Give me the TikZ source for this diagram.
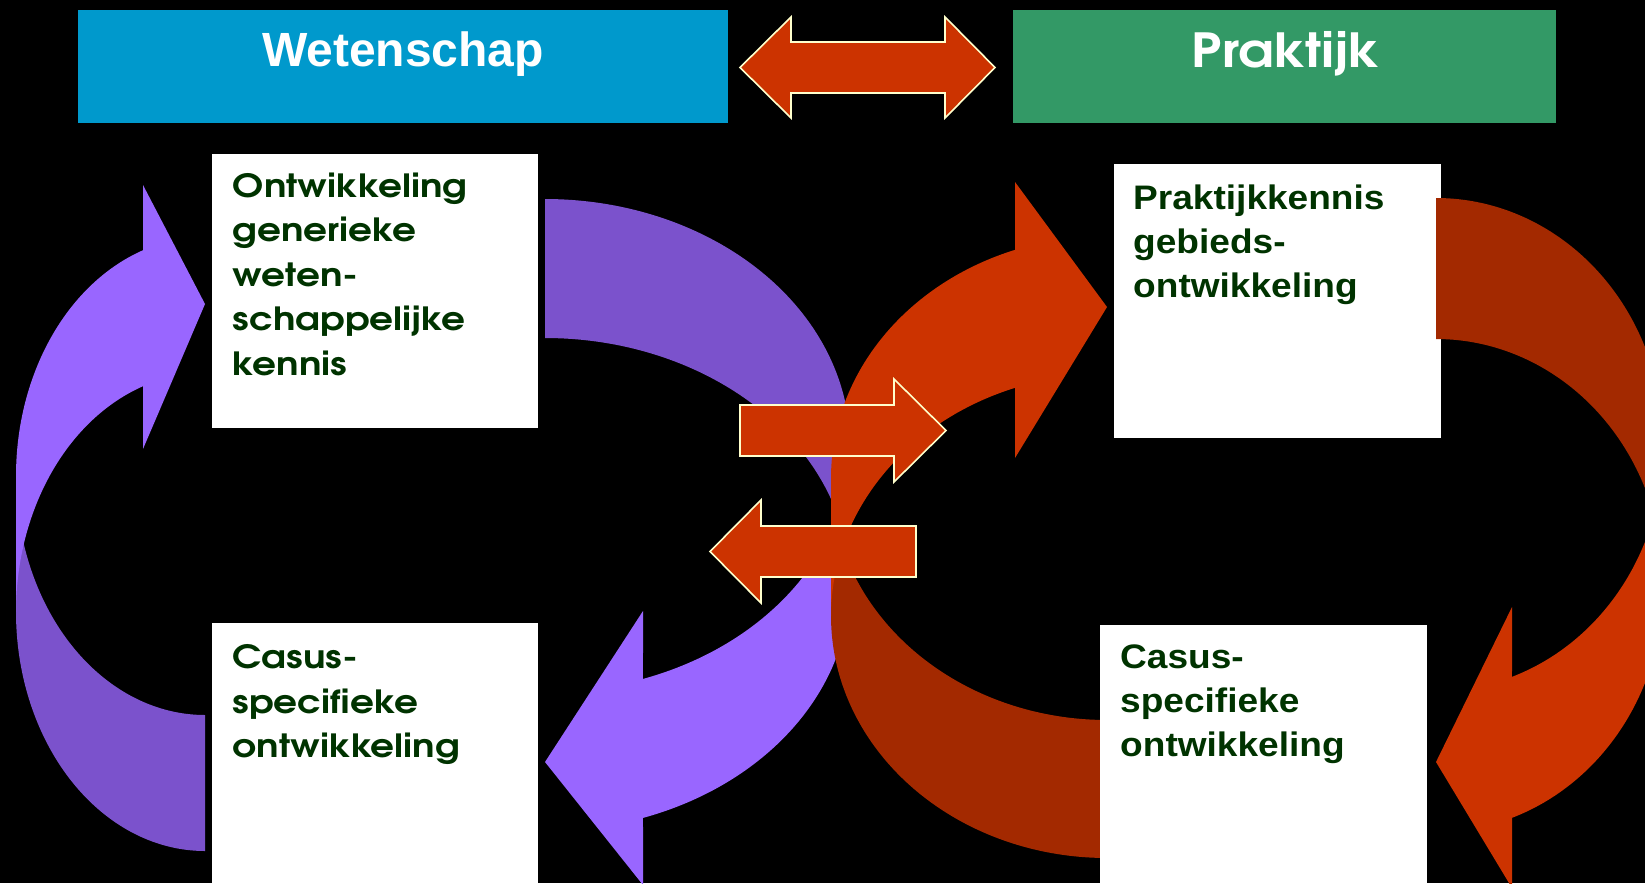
\documentclass[tikz,border=0pt]{standalone}
\usepackage{fontspec}
\setmainfont{Liberation Sans}
\newfontfamily\gothic{texgyreadventor}[Extension=.otf,UprightFont=*-regular,BoldFont=*-bold,FakeStretch=1.17]
\newfontfamily\gothichead{texgyreadventor}[Extension=.otf,UprightFont=*-regular,BoldFont=*-bold,FakeStretch=1.15]
\newfontfamily\arialw{Liberation Sans}[FakeStretch=1.09]
\definecolor{wblue}{RGB}{0,153,204}
\definecolor{pgreen}{RGB}{51,153,102}
\definecolor{plight}{RGB}{153,102,255}
\definecolor{pdark}{RGB}{123,82,204}
\definecolor{rlight}{RGB}{204,51,0}
\definecolor{rdark}{RGB}{163,41,0}
\definecolor{cream}{RGB}{255,255,204}
\definecolor{tgreen}{RGB}{0,51,0}
\begin{document}
\begin{tikzpicture}[x=1pt,y=-1pt,
  whitebox/.style={fill=white,draw=none,anchor=north west,inner sep=0pt},
  headbox/.style={draw=none,anchor=north west,inner sep=0pt,minimum height=113pt},
  headtext/.style={text=white,anchor=base,inner sep=0pt},
  lefttext/.style={text=tgreen,anchor=north west,inner sep=0pt,align=left,
    font=\gothic\bfseries\fontsize{32}{44.5}\selectfont},
  righttext/.style={text=tgreen,anchor=north west,inner sep=0pt,align=left,
    font=\arialw\bfseries\fontsize{34}{44}\selectfont},
  flatarrow/.style={fill=rlight,draw=cream,line width=1.6pt,line join=miter},
  samples=90]
\useasboundingbox (0,0) rectangle (1645,883);
\fill[black] (0,0) rectangle (1645,883);

% header bars
\node[headbox,fill=wblue,minimum width=650pt] (wet) at (78,10) {};
\node[headbox,fill=pgreen,minimum width=543pt] (prak) at (1013,10) {};
\node[headtext,font=\bfseries\fontsize{48}{48}\selectfont] (wettxt) at (403,66.7) {Wetenschap};
\node[headtext,font=\gothichead\bfseries\fontsize{47}{47}\selectfont] (praktxt) at (1286,67.5) {Praktijk};

% double arrow between headers
\draw[flatarrow] (740,67.5) -- (791,17) -- (791,42) -- (945,42) -- (945,17) -- (995,67.5)
  -- (945,118) -- (945,93) -- (791,93) -- (791,118) -- cycle;

% white boxes
\node[whitebox,minimum width=326pt,minimum height=274pt] (tl) at (212,154) {};
\node[whitebox,minimum width=326pt,minimum height=260pt] (bl) at (212,623) {};
\node[whitebox,minimum width=327pt,minimum height=274pt] (tr) at (1114,164) {};

% curved arrow A (left, purple)
\fill[pdark] plot[domain=90:180] ({205+189*cos(\x)},{612+239*sin(\x)})
  -- plot[domain=180:90] ({205+189*cos(\x)},{476+239*sin(\x)}) -- cycle;
\fill[plight] plot[domain=180:250.85] ({205+189*cos(\x)},{476+239*sin(\x)})
  -- (143,185) -- (205,304) -- (143,449)
  -- plot[domain=250.85:180] ({205+189*cos(\x)},{612+239*sin(\x)}) -- cycle;

% curved arrow B (centre left, purple)
\fill[pdark] plot[domain=270:360] ({545+305*cos(\x)},{445.5+246.5*sin(\x)})
  -- plot[domain=360:270] ({545+305*cos(\x)},{584.5+246.5*sin(\x)}) -- cycle;
\fill[plight] plot[domain=0:71.26] ({545+305*cos(\x)},{584.5+246.5*sin(\x)})
  -- (643,885) -- (545,762) -- (643,611)
  -- plot[domain=71.26:0] ({545+305*cos(\x)},{445.5+246.5*sin(\x)}) -- cycle;

% curved arrow C (centre right, red)
\fill[rdark] plot[domain=90:180] ({1107+276*cos(\x)},{616+242*sin(\x)})
  -- plot[domain=180:90] ({1107+276*cos(\x)},{478+242*sin(\x)}) -- cycle;
\fill[rlight] plot[domain=180:250.53] ({1107+276*cos(\x)},{478+242*sin(\x)})
  -- (1015,182) -- (1107,307) -- (1015,458)
  -- plot[domain=250.53:180] ({1107+276*cos(\x)},{616+242*sin(\x)}) -- cycle;

% curved arrow D (right, red)
\fill[rdark] plot[domain=270:360] ({1436+227.5*cos(\x)},{444.5+246.5*sin(\x)})
  -- plot[domain=360:270] ({1436+227.5*cos(\x)},{585.5+246.5*sin(\x)}) -- cycle;
\fill[rlight] plot[domain=0:70.49] ({1436+227.5*cos(\x)},{585.5+246.5*sin(\x)})
  -- (1512,888) -- (1436,762) -- (1512,607)
  -- plot[domain=70.49:0] ({1436+227.5*cos(\x)},{444.5+246.5*sin(\x)}) -- cycle;

% bottom right box (on top of the band end)
\node[whitebox,minimum width=327pt,minimum height=259pt] (br) at (1100,624.5) {};

% straight arrows in the middle
\draw[flatarrow] (740,405) -- (894,405) -- (894,379) -- (946,430.5) -- (894,482)
  -- (894,456) -- (740,456) -- cycle;
\draw[flatarrow] (710,551.5) -- (761,500) -- (761,526) -- (916,526) -- (916,577)
  -- (761,577) -- (761,603) -- cycle;

% texts
\node[lefttext] (tltxt) at (232.5,172.5) {Ontwikkeling\\generieke\\weten-\\schappelijke\\kennis};
\node[lefttext] (bltxt) at (232.5,644.5) {Casus-\\specifieke\\ontwikkeling};
\node[righttext] (trtxt) at (1133,185) {Praktijkkennis\\gebieds-\\ontwikkeling};
\node[righttext] (brtxt) at (1120,645) {Casus-\\specifieke\\ontwikkeling};
\end{tikzpicture}
\end{document}
